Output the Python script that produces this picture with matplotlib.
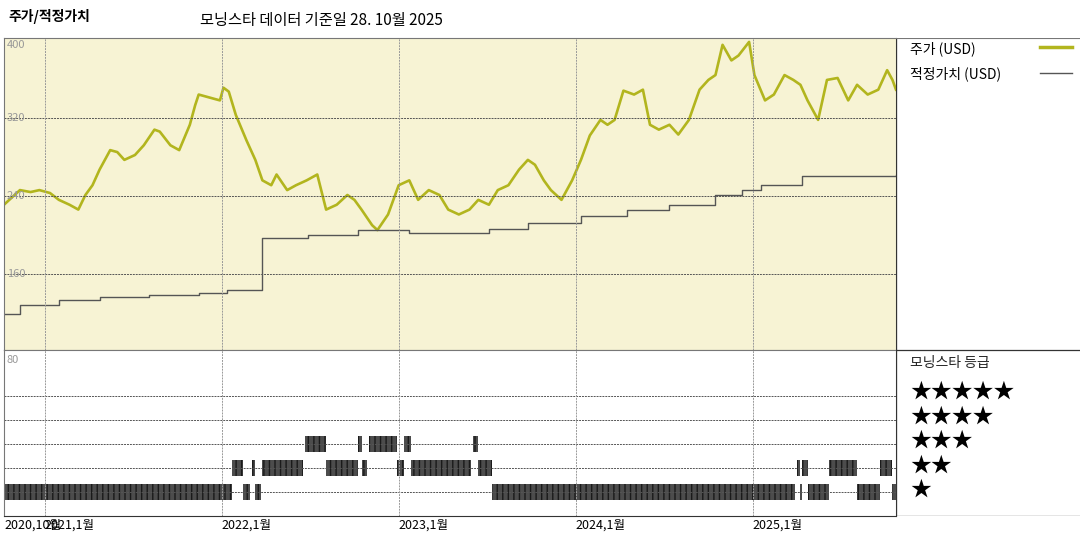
import numpy as np
import matplotlib.pyplot as plt

plt.rcParams['font.family'] = ['Noto Sans CJK KR', 'DejaVu Sans']

# 주가 (decimal year, USD)
price_t = [2020.77, 2020.80, 2020.86, 2020.92, 2020.97, 2021.03, 2021.08, 2021.14, 2021.19, 2021.23,
           2021.27, 2021.31, 2021.34, 2021.37, 2021.41, 2021.45, 2021.51, 2021.56, 2021.62, 2021.65,
           2021.71, 2021.76, 2021.82, 2021.85, 2021.87, 2021.99, 2022.01, 2022.04, 2022.08, 2022.14,
           2022.19, 2022.23, 2022.28, 2022.31, 2022.37, 2022.42, 2022.48, 2022.54, 2022.59, 2022.65,
           2022.71, 2022.75, 2022.79, 2022.85, 2022.88, 2022.94, 2023.00, 2023.06, 2023.11, 2023.17,
           2023.23, 2023.28, 2023.34, 2023.40, 2023.45, 2023.51, 2023.56, 2023.62, 2023.68, 2023.73,
           2023.77, 2023.82, 2023.86, 2023.92, 2023.98, 2024.03, 2024.08, 2024.14, 2024.18, 2024.22,
           2024.27, 2024.33, 2024.38, 2024.42, 2024.47, 2024.53, 2024.58, 2024.64, 2024.70, 2024.75,
           2024.79, 2024.83, 2024.88, 2024.92, 2024.98, 2025.01, 2025.07, 2025.12, 2025.18, 2025.23,
           2025.27, 2025.31, 2025.37, 2025.42, 2025.48, 2025.54, 2025.59, 2025.65, 2025.71, 2025.76,
           2025.79, 2025.81]
price_v = [231, 236, 246, 244, 246, 243, 236, 231, 226, 241,
           251, 267, 277, 287, 285, 277, 282, 292, 308, 306,
           292, 287, 313, 333, 344, 338, 351, 347, 323, 297,
           277, 256, 251, 262, 246, 251, 256, 262, 226, 231,
           241, 236, 226, 210, 205, 221, 251, 256, 236, 246,
           241, 226, 221, 226, 236, 231, 246, 251, 267, 277,
           272, 256, 246, 236, 256, 277, 302, 318, 313, 318,
           348, 344, 349, 313, 308, 313, 303, 318, 349, 359,
           364, 395, 379, 384, 398, 364, 338, 344, 364, 359,
           354, 338, 318, 359, 361, 338, 354, 344, 349, 369,
           359, 349]

# 적정가치 (step changes)
fair_t = [2020.77, 2020.86, 2021.08, 2021.31, 2021.59, 2021.87, 2022.03, 2022.23, 2022.49, 2022.77,
          2023.06, 2023.51, 2023.73, 2024.03, 2024.29, 2024.53, 2024.79, 2024.94, 2025.05, 2025.28,
          2025.81]
fair_v = [119, 128, 133, 136, 138, 140, 144, 197, 200, 205,
          202, 206, 212, 219, 226, 231, 241, 246, 251, 260,
          262]

# 모닝스타 등급 구간 (start, end, stars)
rating_start = [2020.77, 2022.06, 2022.12, 2022.17, 2022.19, 2022.23, 2022.47, 2022.59, 2022.77, 2022.79,
                2022.83, 2022.99, 2023.03, 2023.07, 2023.42, 2023.45, 2023.53, 2025.25, 2025.27, 2025.28,
                2025.31, 2025.43, 2025.59, 2025.72, 2025.79]
rating_end = [2022.06, 2022.12, 2022.16, 2022.19, 2022.22, 2022.46, 2022.59, 2022.77, 2022.79, 2022.82,
              2022.99, 2023.03, 2023.07, 2023.41, 2023.45, 2023.53, 2025.24, 2025.27, 2025.28, 2025.31,
              2025.43, 2025.59, 2025.72, 2025.79, 2025.81]
rating_star = [1, 2, 1, 2, 1, 2, 3, 2, 3, 2,
               3, 2, 3, 2, 3, 2, 1, 2, 1, 2,
               1, 2, 1, 2, 1]

years = [2021, 2022, 2023, 2024, 2025]
x0, x1 = 2020.77, 2025.81

W, H = 1080, 540
fig = plt.figure(figsize=(10.8, 5.4), dpi=100)
bg = '#f7f3d4'
green = '#b2b51e'

def box(l, t, r, b):
    return [l / W, 1 - b / H, (r - l) / W, (b - t) / H]

ax = fig.add_axes(box(4, 38, 896, 350))
ax.set_facecolor(bg)
ax.plot(price_t, price_v, color=green, lw=1.9)
ax.step(fair_t, fair_v, where='post', color='#555555', lw=1)
ax.set_xlim(x0, x1)
ax.set_ylim(82, 402)
for yv in [160, 240, 320]:
    ax.axhline(yv, color='#555555', ls=(0, (2, 1)), lw=0.7)
for yr in years:
    ax.axvline(yr, color='#999999', ls=(0, (2, 1)), lw=0.7)
for yv in [400, 320, 240, 160]:
    ax.text(0.003, yv, str(yv), transform=ax.get_yaxis_transform(), fontsize=8,
            color='#999999', va='top' if yv == 400 else 'center')
ax.set_xticks([])
ax.set_yticks([])
for s in ax.spines.values():
    s.set_color('#777777')
    s.set_linewidth(0.8)

ax2 = fig.add_axes(box(4, 350, 896, 516))
ax2.set_xlim(x0, x1)
ax2.set_ylim(0, 6.9)
for st in [1, 2, 3, 4, 5]:
    ax2.axhline(st, color='#555555', ls=(0, (2, 1)), lw=0.7)
for yr in years:
    ax2.axvline(yr, color='#999999', ls=(0, (2, 1)), lw=0.7)
for s0, s1, st in zip(rating_start, rating_end, rating_star):
    ax2.broken_barh([(s0, s1 - s0)], (st - 0.33, 0.66), facecolor='#4c4c4c',
                    edgecolor='#1a1a1a', hatch='|||', lw=0)
ax2.text(0.003, 6.7, '80', transform=ax2.get_yaxis_transform(), fontsize=8,
         color='#999999', va='top')
ax2.set_yticks([])
ax2.set_xticks([2020.77] + years)
ax2.set_xticklabels(['2020,10월'] + ['%d,1월' % y for y in years], fontsize=9)
for lab in ax2.get_xticklabels():
    lab.set_horizontalalignment('left')
ax2.tick_params(axis='x', length=0, pad=2)
for s in ax2.spines.values():
    s.set_color('#777777')
    s.set_linewidth(0.8)
ax2.spines['bottom'].set_color('#333333')

# 오른쪽 범례 영역
axr = fig.add_axes(box(896, 38, 1080, 516))
axr.set_xlim(896, 1080)
axr.set_ylim(516, 38)
axr.axis('off')
axr.plot([896, 896], [38, 516], color='#333333', lw=0.9)
axr.plot([896, 1080], [350, 350], color='#333333', lw=0.9)
axr.plot([896, 1080], [516, 516], color='#333333', lw=0.9)
axr.plot([896, 1080], [38, 38], color='#777777', lw=0.8)
axr.text(910, 49, '주가 (USD)', fontsize=10, va='center')
axr.plot([1040, 1072], [47, 47], color=green, lw=2.5)
axr.text(910, 74, '적정가치 (USD)', fontsize=10, va='center')
axr.plot([1040, 1072], [73, 73], color='#555555', lw=1)
axr.text(910, 363, '모닝스타 등급', fontsize=10, va='center', color='#222222')
for i, st in enumerate([5, 4, 3, 2, 1]):
    axr.text(910, 392 + i * 24.5, '★' * st, fontsize=15, va='center')

fig.text(8 / W, 1 - 17 / H, '주가/적정가치', fontsize=10, fontweight='bold', va='center')
fig.text(200 / W, 1 - 20 / H, '모닝스타 데이터 기준일 28. 10월 2025', fontsize=11, va='center')

fig.savefig('out.png', dpi=100)
